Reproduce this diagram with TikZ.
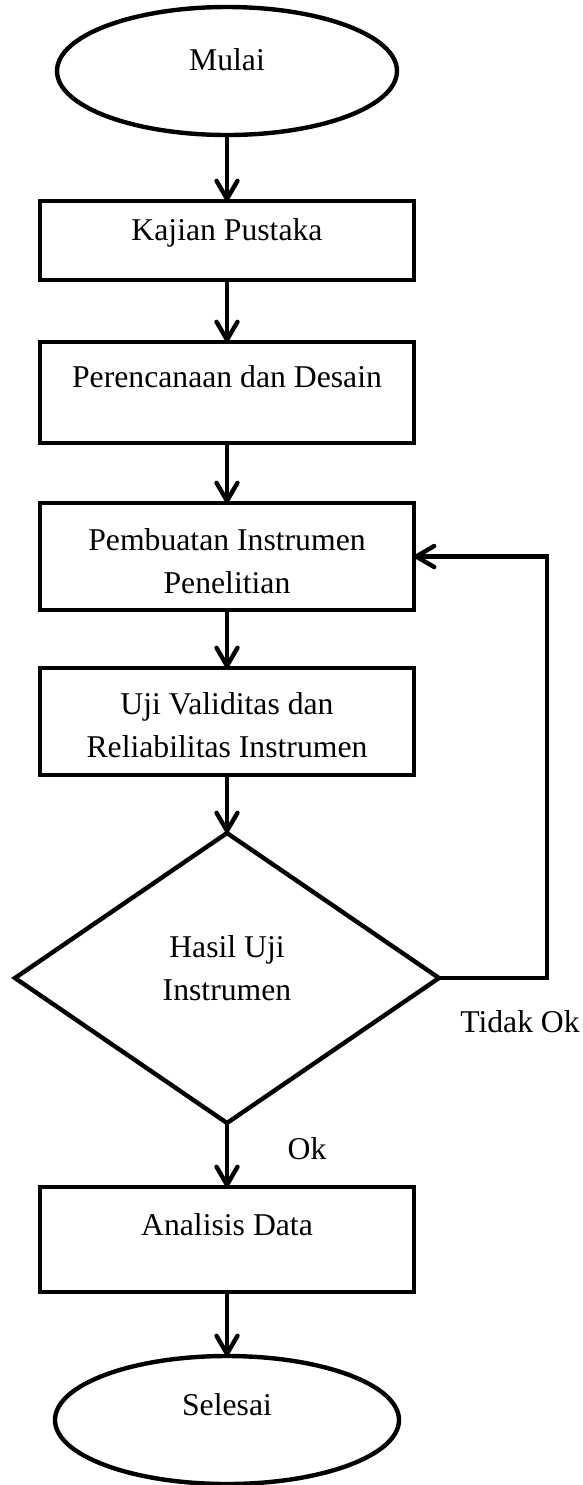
\documentclass[tikz,border=0pt]{standalone}
\usepackage{fontspec}
\setmainfont{Liberation Serif}
\usetikzlibrary{shapes.geometric,arrows.meta}
\begin{document}
\begin{tikzpicture}[x=0.5pt,y=-0.5pt,
  outl/.style={draw,line width=2.2pt,inner sep=0pt,outer sep=0pt,line join=miter},
  procbox/.style={outl,rectangle,minimum width=187pt,minimum height=#1},
  term/.style={outl,ellipse,minimum width=#1,minimum height=64pt},
  decide/.style={outl,diamond,minimum width=212pt,minimum height=145pt},
  txt/.style={font=\fontsize{15.85}{21.5}\selectfont,align=center,inner sep=0pt},
  txtone/.style={txt,text height=0.68em,text depth=0.22em},
  flow/.style={line width=2.2pt,line join=miter,-{Straight Barb[length=9pt,width=10.5pt,round]}}
]
\useasboundingbox (0,0) rectangle (583,1485);
% shapes
\node[term=170pt] (mulai) at (227,71) {};
\node[procbox=39.5pt] (kajian) at (227,240.5) {};
\node[procbox=50.5pt] (perenc) at (227,392.5) {};
\node[procbox=53.5pt] (pemb) at (227,556.5) {};
\node[procbox=53.5pt] (uji) at (227,721.5) {};
\node[decide] (dia) at (227,978) {};
\node[procbox=52.5pt] (anal) at (227,1239.5) {};
\node[term=172pt] (selesai) at (227,1420) {};
% texts
\node[txtone] (tmulai) at (227,66) {Mulai};
\node[txtone] (tkajian) at (227,236) {Kajian Pustaka};
\node[txtone] (tperenc) at (227,383) {Perencanaan dan Desain};
\node[txt] (tpemb) at (227,561) {Pembuatan Instrumen\\Penelitian};
\node[txt] (tuji) at (227,725) {Uji Validitas dan\\Reliabilitas Instrumen};
\node[txt] (tdia) at (227,968) {Hasil Uji\\Instrumen};
\node[txtone] (tanal) at (227,1231) {Analisis Data};
\node[txtone] (tsel) at (227,1411) {Selesai};
\node[txtone] (ttidak) at (520,1028) {Tidak Ok};
\node[txtone] (tok) at (307,1155) {Ok};
% connectors
\coordinate (loopx) at (547,0);
\draw[flow] (mulai.south) -- (kajian.north);
\draw[flow] (kajian.south) -- (perenc.north);
\draw[flow] (perenc.south) -- (pemb.north);
\draw[flow] (pemb.south) -- (uji.north);
\draw[flow] (uji.south) -- (dia.north);
\draw[flow] (dia.south) -- (anal.north);
\draw[flow] (anal.south) -- (selesai.north);
\draw[flow] (dia.east) -- (dia.east -| loopx) |- (pemb.east);
\end{tikzpicture}
\end{document}
